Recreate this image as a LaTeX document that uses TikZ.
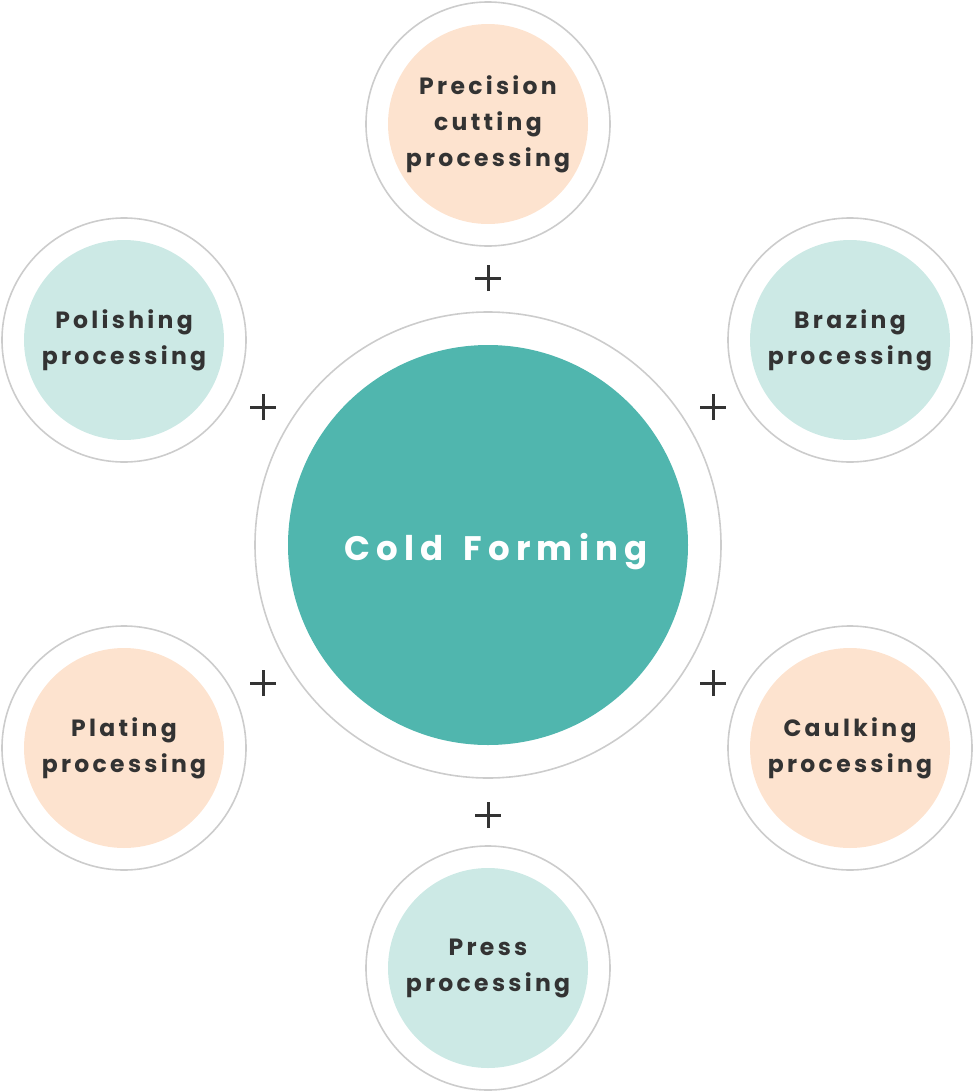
\documentclass[tikz,border=0pt]{standalone}
\usepackage{fontspec}
\newfontfamily\labfont[LetterSpace=14]{Poppins}
\newfontfamily\bigfont[LetterSpace=18]{Poppins}
\definecolor{teal}{HTML}{50B6AE}
\definecolor{lteal}{HTML}{CCE9E5}
\definecolor{peach}{HTML}{FDE3CF}
\definecolor{ring}{HTML}{CCCCCC}
\definecolor{txt}{HTML}{333333}
\begin{document}
\begin{tikzpicture}[x=1pt,y=-1pt,
  ringc/.style={circle,draw=ring,line width=1.6pt,minimum size=244pt,inner sep=0pt},
  sat/.style={circle,minimum size=200pt,inner sep=0pt,align=center,text=txt,
    font=\labfont\bfseries\fontsize{23.5}{36}\selectfont},
  peachsat/.style={sat,fill=peach},
  tealsat/.style={sat,fill=lteal},
  plus/.style={line width=3pt,draw=txt}]
\useasboundingbox (0,0) rectangle (974,1092);
% center
\node[circle,draw=ring,line width=1.6pt,minimum size=466pt,inner sep=0pt] (cring) at (488,545) {};
\node[circle,fill=teal,minimum size=400pt,inner sep=0pt] (center) at (488,545) {};
\node[text=white,font=\bigfont\bfseries\fontsize{34}{40}\selectfont] (cf) at (496,552) {Cold\hspace{20pt}Forming};
% satellites
\node[ringc] (r1) at (488,124) {};
\node[peachsat] (s1) at (488,124) {Precision\\cutting\\processing};
\node[ringc] (r2) at (124,340) {};
\node[tealsat] (s2) at (124,340) {Polishing\\processing};
\node[ringc] (r3) at (850,340) {};
\node[tealsat] (s3) at (850,340) {Brazing\\processing};
\node[ringc] (r4) at (124,748) {};
\node[peachsat] (s4) at (124,748) {Plating\\processing};
\node[ringc] (r5) at (850,748) {};
\node[peachsat] (s5) at (850,748) {Caulking\\processing};
\node[ringc] (r6) at (488,968) {};
\node[tealsat] (s6) at (488,968) {Press\\processing};
% plus signs
\foreach \n/\px/\py in {p1/488/278, p2/263/407, p3/713/407, p4/263/683, p5/713/683, p6/488/815}{
  \coordinate (\n) at (\px,\py);
  \draw[plus] ([xshift=-13pt]\n) -- ([xshift=13pt]\n);
  \draw[plus] ([yshift=-13pt]\n) -- ([yshift=13pt]\n);
}
\end{tikzpicture}
\end{document}
